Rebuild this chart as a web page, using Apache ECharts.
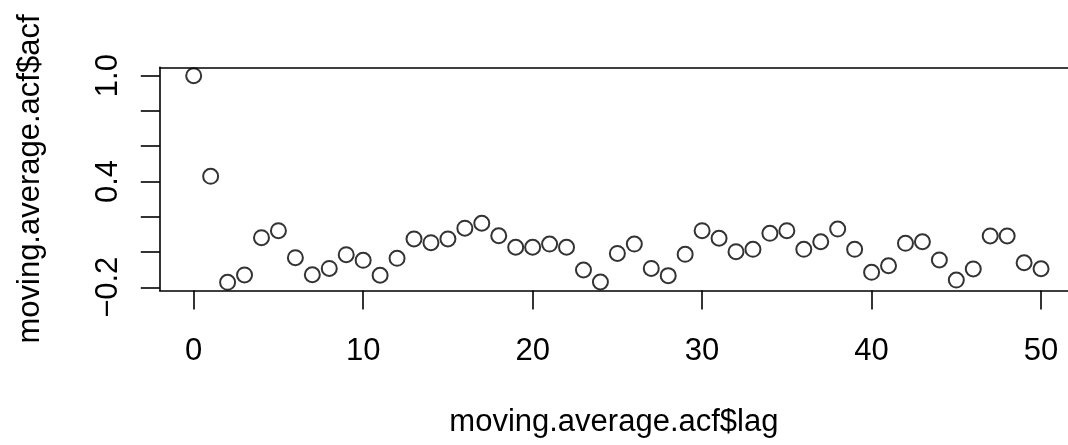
<!DOCTYPE html>
<html>
<head>
<meta charset="utf-8">
<script src="https://cdn.jsdelivr.net/npm/echarts@6/dist/echarts.min.js"></script>
<style>html,body{margin:0;padding:0;background:#fff;}#c{width:1068px;height:445px;}</style>
</head>
<body>
<div id="c"></div>
<script>
const lags = [0,1,2,3,4,5,6,7,8,9,10,11,12,13,14,15,16,17,18,19,20,21,22,23,24,25,26,27,28,29,30,31,32,33,34,35,36,37,38,39,40,41,42,43,44,45,46,47,48,49,50];
const acfValues = [1.0,0.429,-0.172,-0.130,0.081,0.121,-0.032,-0.129,-0.093,-0.015,-0.047,-0.132,-0.036,0.074,0.053,0.074,0.135,0.163,0.092,0.027,0.027,0.045,0.027,-0.102,-0.170,-0.008,0.045,-0.093,-0.134,-0.013,0.121,0.078,0.002,0.015,0.106,0.121,0.015,0.058,0.130,0.015,-0.115,-0.078,0.049,0.058,-0.045,-0.159,-0.096,0.091,0.091,-0.061,-0.095];
const xTicks = [0,10,20,30,40,50];
const yTicks = [-0.2,0,0.2,0.4,0.6,0.8,1.0];
const yTickLabels = [-0.2,0.4,1.0];
const xTitle = 'moving.average.acf$lag';
const yTitle = 'moving.average.acf$acf';

const FONT = 'Liberation Sans';
const FS = 31;
const LW = 1.6;
const chart = echarts.init(document.getElementById('c'), null, {renderer:'canvas'});
chart.setOption({
  animation: false,
  backgroundColor: '#fff',
  grid: {left: 159.8, top: 67.4, right: 0, height: 223.2, show: false, containLabel: false},
  xAxis: [{
    type: 'value', min: -2, max: 51.59, position: 'bottom',
    name: xTitle, nameLocation: 'middle', nameGap: 116,
    nameTextStyle: {fontFamily: FONT, fontSize: FS, color: '#000'},
    axisLine: {show: true, onZero: false, lineStyle: {color: '#000', width: LW}},
    axisTick: {show: true, inside: false, length: 19, customValues: xTicks, lineStyle: {color: '#000', width: LW}},
    axisLabel: {show: true, margin: 45, customValues: xTicks, fontFamily: FONT, fontSize: FS, color: '#000', formatter: v => String(v)},
    splitLine: {show: false}
  }, {
    type: 'value', min: -2, max: 51.59, position: 'top',
    axisLine: {show: true, onZero: false, lineStyle: {color: '#000', width: LW}},
    axisTick: {show: false}, axisLabel: {show: false}, splitLine: {show: false}
  }],
  yAxis: {
    type: 'value', min: -0.2189, max: 1.0469,
    name: yTitle, nameLocation: 'middle', nameGap: 114, nameRotate: 90,
    nameTextStyle: {fontFamily: FONT, fontSize: FS, color: '#000'},
    axisLine: {show: true, onZero: false, lineStyle: {color: '#000', width: LW}},
    axisTick: {show: true, inside: false, length: 19, customValues: yTicks, lineStyle: {color: '#000', width: LW}},
    axisLabel: {show: true, rotate: 90, margin: 36, customValues: yTickLabels, fontFamily: FONT, fontSize: FS, color: '#000',
      formatter: v => Number(v).toFixed(1).replace('-', '\u2212')},
    splitLine: {show: false}
  },
  series: [{
    type: 'scatter',
    xAxisIndex: 0,
    data: lags.map((l, i) => [l, acfValues[i]]),
    symbol: 'circle', symbolSize: 15,
    itemStyle: {color: 'transparent', borderColor: '#000', borderWidth: 2},
    clip: false
  }]
});
</script>
</body>
</html>
